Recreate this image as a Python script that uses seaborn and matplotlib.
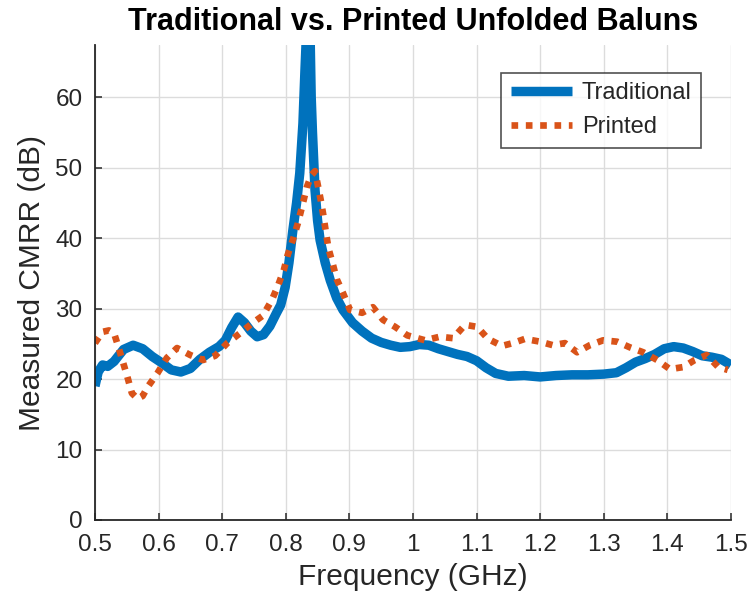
import numpy as np
import pandas as pd
import matplotlib
matplotlib.use("Agg")
import matplotlib.pyplot as plt
import seaborn as sns

# Measured CMRR of the traditional (wire-wound) unfolded balun
trad_freq = [0.500, 0.505, 0.512, 0.520, 0.530, 0.545, 0.560, 0.575, 0.590, 0.605,
             0.620, 0.635, 0.650, 0.665, 0.680, 0.695, 0.705, 0.715, 0.725, 0.735,
             0.745, 0.755, 0.765, 0.775, 0.785, 0.792, 0.799, 0.805, 0.811, 0.817,
             0.822, 0.827, 0.830, 0.833, 0.836, 0.838, 0.840, 0.842, 0.846, 0.850,
             0.854, 0.862, 0.870, 0.880, 0.890, 0.905, 0.920, 0.935, 0.950, 0.965,
             0.980, 0.995, 1.010, 1.025, 1.040, 1.055, 1.070, 1.085, 1.100, 1.115,
             1.130, 1.150, 1.175, 1.200, 1.225, 1.250, 1.275, 1.300, 1.320, 1.335,
             1.350, 1.365, 1.380, 1.395, 1.410, 1.425, 1.440, 1.455, 1.470, 1.485,
             1.500]
trad_cmrr = [19.0, 21.0, 22.0, 21.8, 22.5, 24.2, 24.8, 24.3, 23.2, 22.3,
             21.3, 21.0, 21.5, 22.8, 23.8, 24.6, 25.5, 27.3, 28.8, 28.0,
             26.8, 26.0, 26.3, 27.5, 29.3, 30.5, 33.0, 36.5, 41.0, 45.0,
             49.2, 56.3, 63.4, 70.0, 78.0, 70.0, 60.0, 55.0, 46.8, 42.5,
             39.7, 36.5, 34.0, 31.5, 29.8, 28.0, 26.8, 25.8, 25.2, 24.8,
             24.5, 24.6, 24.9, 24.8, 24.3, 23.9, 23.5, 23.2, 22.6, 21.6,
             20.8, 20.4, 20.5, 20.3, 20.5, 20.6, 20.6, 20.7, 20.9, 21.6,
             22.4, 22.9, 23.5, 24.3, 24.6, 24.4, 23.9, 23.3, 23.1, 22.8,
             22.0]

# Measured CMRR of the printed unfolded balun
print_freq = [0.500, 0.512, 0.522, 0.530, 0.536, 0.543, 0.551, 0.558, 0.567, 0.575,
              0.583, 0.598, 0.613, 0.629, 0.650, 0.670, 0.689, 0.708, 0.728, 0.747,
              0.764, 0.778, 0.788, 0.797, 0.803, 0.811, 0.819, 0.826, 0.833, 0.840,
              0.846, 0.850, 0.855, 0.859, 0.863, 0.867, 0.874, 0.880, 0.890, 0.901,
              0.920, 0.937, 0.953, 0.972, 0.991, 1.019, 1.042, 1.063, 1.082, 1.101,
              1.118, 1.140, 1.157, 1.176, 1.200, 1.220, 1.239, 1.258, 1.278, 1.299,
              1.321, 1.341, 1.362, 1.384, 1.404, 1.425, 1.443, 1.462, 1.480, 1.495]
print_cmrr = [25.1, 26.7, 26.9, 26.5, 24.8, 22.7, 20.3, 18.0, 17.2, 17.6,
              18.9, 20.8, 23.0, 24.4, 23.4, 22.7, 23.3, 25.1, 26.5, 27.9,
              29.0, 31.2, 33.3, 35.5, 37.6, 39.7, 42.1, 44.6, 47.2, 48.9,
              49.5, 47.7, 45.4, 43.3, 40.9, 38.6, 36.3, 34.2, 32.2, 29.8,
              29.4, 30.2, 28.4, 27.4, 26.2, 25.5, 26.0, 25.8, 27.7, 27.4,
              25.7, 24.7, 25.1, 25.7, 25.3, 24.8, 25.1, 23.8, 24.8, 25.5,
              25.3, 24.5, 23.8, 22.7, 21.4, 21.7, 22.7, 23.4, 21.7, 21.3]

x_ticks = [0.5, 0.6, 0.7, 0.8, 0.9, 1.0, 1.1, 1.2, 1.3, 1.4, 1.5]
x_tick_labels = ["0.5", "0.6", "0.7", "0.8", "0.9", "1", "1.1", "1.2", "1.3", "1.4", "1.5"]
y_ticks = [0, 10, 20, 30, 40, 50, 60]

trad_df = pd.DataFrame({"freq": trad_freq, "cmrr": trad_cmrr})
print_df = pd.DataFrame({"freq": print_freq, "cmrr": print_cmrr})

sns.set_theme(style="white")
plt.rcParams["font.family"] = ["Liberation Sans", "DejaVu Sans"]

BLUE = "#0072BD"
ORANGE = "#D95319"
INK = "#262626"

fig = plt.figure(figsize=(7.49, 6.14), dpi=100)
ax = fig.add_axes([0.1268, 0.1531, 0.8491, 0.7736])

sns.lineplot(data=trad_df, x="freq", y="cmrr", ax=ax, color=BLUE, lw=6.8,
             estimator=None, label="Traditional", solid_capstyle="butt")
sns.lineplot(data=print_df, x="freq", y="cmrr", ax=ax, color=ORANGE, lw=4.8,
             estimator=None, label="Printed", linestyle=(0, (1, 1.15)),
             dash_capstyle="butt")

ax.set_xlim(0.5, 1.5)
ax.set_ylim(0, 67.4)
ax.set_xticks(x_ticks)
ax.set_xticklabels(x_tick_labels)
ax.set_yticks(y_ticks)

for lab in ax.get_xticklabels() + ax.get_yticklabels():
    lab.set_fontsize(17.5)
    lab.set_color(INK)

ax.tick_params(axis="both", direction="in", length=5, width=1.1, color=INK,
               bottom=True, left=True, top=False, right=False)
ax.tick_params(axis="x", pad=10)
ax.tick_params(axis="y", pad=9)

ax.grid(True, color="#dcdcdc", lw=1.0)
ax.set_axisbelow(True)

for side in ("top", "right"):
    ax.spines[side].set_visible(False)
for side in ("left", "bottom"):
    ax.spines[side].set_color(INK)
    ax.spines[side].set_linewidth(1.3)

ax.set_xlabel("Frequency (GHz)", fontsize=21.5, color=INK, labelpad=5)
ax.set_ylabel("Measured CMRR (dB)", fontsize=21.5, color=INK, labelpad=7)
ax.set_title("Traditional vs. Printed Unfolded Baluns", fontsize=22,
             fontweight="bold", color="black", pad=11)

leg = ax.legend(loc="upper right", bbox_to_anchor=(0.953, 0.941), borderaxespad=0,
                fontsize=17, frameon=True, fancybox=False, handlelength=2.6,
                handletextpad=0.4, labelspacing=0.5, borderpad=0.4)
leg.get_frame().set_edgecolor(INK)
leg.get_frame().set_linewidth(1.2)
for t in leg.get_texts():
    t.set_color(INK)

fig.savefig("out.png", dpi=100)
